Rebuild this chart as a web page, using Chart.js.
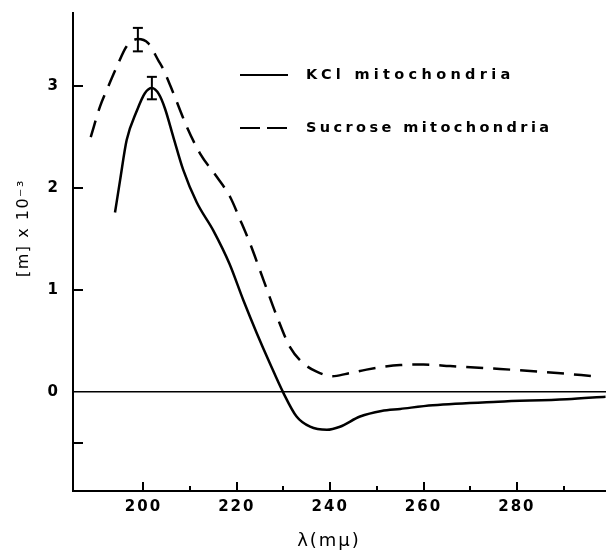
<!DOCTYPE html>
<html><head><meta charset="utf-8">
<script src="https://cdn.jsdelivr.net/npm/chart.js@4.4.0/dist/chart.umd.min.js"></script>
<style>html,body{margin:0;padding:0;background:#fff}#wrap{width:606px;height:555px}</style>
</head><body><div id="wrap"><canvas id="c" width="606" height="555"></canvas></div>
<script>
// ---- data ----
const kclX = [193.9, 195.0, 196.4, 198.6, 200.3, 201.8, 203.3, 204.6, 206.4, 208.5, 211.4, 215.0, 218.4, 221.4, 224.3, 227.1, 230.0, 232.8, 235.7, 239.3, 242.1, 246.4, 251.0, 255.0, 262.0, 276.0, 290.7, 299.0];
const kclY = [1.76, 2.08, 2.47, 2.76, 2.93, 2.98, 2.92, 2.78, 2.50, 2.18, 1.86, 1.58, 1.26, 0.90, 0.575, 0.28, -0.01, -0.24, -0.34, -0.37, -0.34, -0.24, -0.185, -0.165, -0.13, -0.095, -0.07, -0.045];
const sucX = [188.7, 190.7, 192.5, 194.3, 196.4, 198.8, 201.0, 203.2, 204.3, 206.4, 209.3, 212.1, 215.7, 218.6, 220.7, 222.8, 225.7, 228.6, 231.4, 234.3, 237.1, 240.5, 243.6, 247.8, 255.0, 260.0, 265.7, 275.0, 285.0, 298.0];
const sucY = [2.50, 2.80, 3.00, 3.19, 3.39, 3.46, 3.42, 3.25, 3.16, 2.93, 2.60, 2.34, 2.11, 1.91, 1.69, 1.46, 1.10, 0.74, 0.44, 0.28, 0.20, 0.155, 0.18, 0.22, 0.265, 0.27, 0.255, 0.23, 0.20, 0.15];
const kclErr = {x: 201.8, lo: 2.87, hi: 3.09};
const sucErr = {x: 198.8, lo: 3.34, hi: 3.57};
const seriesLabels = ['KCl mitochondria', 'Sucrose mitochondria'];
const xMajorTicks = [200, 220, 240, 260, 280];
const xMinorTicks = [210, 230, 250, 270, 290];
const yLabelTicks = [0, 1, 2, 3];
const yExtraTicks = [-0.5];
const xTitle = 'λ(mμ)';
const yTitle = '[m] x 10⁻³';

const FONT = '"DejaVu Sans", sans-serif';
const pts = (xs, ys) => xs.map((x, i) => ({x, y: ys[i]}));

const decor = {
  id: 'decor',
  beforeDraw(chart) { chart.ctx.letterSpacing = '2px'; },
  afterDraw(chart) {
    const ctx = chart.ctx, xs = chart.scales.x, ys = chart.scales.y, a = chart.chartArea;
    ctx.save();
    ctx.strokeStyle = '#000'; ctx.fillStyle = '#000'; ctx.lineWidth = 2; ctx.setLineDash([]);
    // inward tick marks
    ctx.beginPath();
    yExtraTicks.concat(yLabelTicks.filter(v => v !== 0)).forEach(v => {
      const y = Math.round(ys.getPixelForValue(v));
      ctx.moveTo(a.left, y); ctx.lineTo(a.left + 10, y);
    });
    xMajorTicks.forEach(v => { const x = Math.round(xs.getPixelForValue(v)); ctx.moveTo(x, a.bottom); ctx.lineTo(x, a.bottom - 9); });
    xMinorTicks.forEach(v => { const x = Math.round(xs.getPixelForValue(v)); ctx.moveTo(x, a.bottom); ctx.lineTo(x, a.bottom - 5); });
    ctx.stroke();
    // legend
    const ds = chart.data.datasets;
    const items = [[ds[0], 75, '4.3px'], [ds[1], 128, '3.4px']];
    items.forEach(([d, y, sp]) => {
      ctx.beginPath();
      ctx.lineWidth = 2;
      ctx.setLineDash(d.borderDash && d.borderDash.length ? [20, 7] : []);
      ctx.moveTo(240, y); ctx.lineTo(288, y); ctx.stroke();
      ctx.setLineDash([]);
      ctx.letterSpacing = sp;
      ctx.font = 'bold 14.5px ' + FONT; ctx.textBaseline = 'middle'; ctx.textAlign = 'left';
      ctx.fillText(d.label, 306, y);
    });
    // axis titles
    ctx.letterSpacing = '2px';
    ctx.font = '18px ' + FONT; ctx.textAlign = 'center'; ctx.textBaseline = 'middle';
    ctx.fillText(xTitle, 329, 541);
    ctx.save(); ctx.translate(24, 228); ctx.rotate(-Math.PI / 2);
    ctx.letterSpacing = '1.5px';
    ctx.font = '16px ' + FONT; ctx.fillText(yTitle, 0, 0); ctx.restore();
    ctx.restore();
  }
};

const errDs = (e) => ({
  label: 'err', data: [{x: e.x, y: e.lo}, {x: e.x, y: e.hi}],
  borderColor: '#000', borderWidth: 2, showLine: true,
  pointStyle: 'line', pointRadius: 5, pointBorderWidth: 2, pointBorderColor: '#000', pointRotation: 0
});

new Chart(document.getElementById('c'), {
  type: 'line',
  data: {
    datasets: [
      {label: seriesLabels[0], data: pts(kclX, kclY), borderColor: '#000', borderWidth: 2.5, pointRadius: 0, cubicInterpolationMode: 'monotone', fill: false},
      {label: seriesLabels[1], data: pts(sucX, sucY), borderColor: '#000', borderWidth: 2.5, borderDash: [17, 10], pointRadius: 0, cubicInterpolationMode: 'monotone', fill: false},
      errDs(kclErr), errDs(sucErr)
    ]
  },
  options: {
    responsive: false, animation: false,
    layout: {autoPadding: false, padding: {top: 13, right: 0, left: 0, bottom: 0}},
    plugins: {legend: {display: false}, tooltip: {enabled: false}},
    scales: {
      x: {
        type: 'linear', min: 184.9, max: 299.1,
        afterBuildTicks: s => { s.ticks = xMajorTicks.concat(xMinorTicks).sort((p, q) => p - q).map(v => ({value: v})); },
        afterFit: s => { s.height = 64; s.paddingLeft = 0; s.paddingRight = 0; },
        grid: {display: false, drawTicks: false},
        border: {display: true, color: '#000', width: 2},
        ticks: {autoSkip: false, maxRotation: 0, padding: 7, color: '#000', font: {family: FONT, size: 15, weight: 'bold'},
          callback: v => xMajorTicks.includes(v) ? String(v) : ''}
      },
      y: {
        type: 'linear', min: -0.97, max: 3.716,
        afterBuildTicks: s => { s.ticks = yExtraTicks.concat(yLabelTicks).map(v => ({value: v})); },
        afterFit: s => { s.width = 73; s.paddingTop = 0; s.paddingBottom = 0; },
        grid: {drawOnChartArea: true, drawTicks: false, lineWidth: 1.5, color: c => (c.tick && c.tick.value === 0) ? '#000' : 'rgba(0,0,0,0)'},
        border: {display: true, color: '#000', width: 2},
        ticks: {autoSkip: false, padding: 13, color: '#000', font: {family: FONT, size: 15, weight: 'bold'},
          callback: v => yLabelTicks.includes(v) ? String(v) : ''}
      }
    }
  },
  plugins: [decor]
});
</script></body></html>
